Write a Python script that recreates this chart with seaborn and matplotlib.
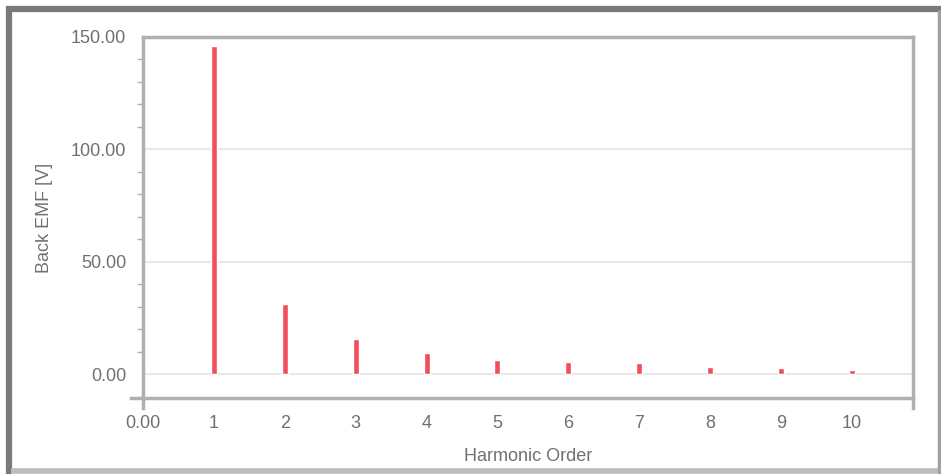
import matplotlib
matplotlib.use("Agg")
import matplotlib.pyplot as plt
import seaborn as sns
from matplotlib.ticker import MultipleLocator, FuncFormatter
from matplotlib.lines import Line2D

# Harmonic spectrum of back EMF
orders = [1, 2, 3, 4, 5, 6, 7, 8, 9, 10]
emf = [146.0, 31.0, 15.5, 9.5, 6.5, 5.2, 5.0, 3.2, 2.5, 2.0]
x_ticks = [0, 1, 2, 3, 4, 5, 6, 7, 8, 9, 10]
x_labels = ['0.00', '1', '2', '3', '4', '5', '6', '7', '8', '9', '10']

sns.set_style('white')
plt.rcParams['font.family'] = ['Liberation Sans', 'DejaVu Sans']

fig = plt.figure(figsize=(9.41, 4.74), dpi=100)
ax = fig.add_axes([0.152, 0.160, 0.818, 0.762])

sns.barplot(x=orders, y=emf, native_scale=True, width=0.085,
            color='#f24e5a', saturation=1, ax=ax)

ax.set_xlim(0, 10.86)
ax.set_ylim(-10.7, 150)
ax.set_xticks(x_ticks)
ax.set_xticklabels(x_labels)
ax.yaxis.set_major_locator(MultipleLocator(50))
ax.yaxis.set_minor_locator(MultipleLocator(10))
ax.yaxis.set_major_formatter(FuncFormatter(lambda v, p: f'{v:.2f}'))
ax.grid(axis='y', which='major', color='#e8e8e8', linewidth=1.5)
ax.set_axisbelow(True)

ax.tick_params(axis='both', which='major', direction='out', length=7, width=1.2,
               color='#a8a8a8', labelcolor='#707070', labelsize=13, pad=5)
ax.tick_params(axis='y', which='minor', direction='out', length=4, width=1,
               color='#b0b0b0', left=True)
ax.tick_params(axis='x', which='major', length=0, pad=12)

for side in ['left', 'right', 'top', 'bottom']:
    ax.spines[side].set_color('#b0b0b0')
    ax.spines[side].set_linewidth(2.5)
ax.spines['left'].set_bounds(-15, 150)
ax.spines['right'].set_bounds(-15, 150)
ax.spines['bottom'].set_bounds(-0.17, 10.86)

ax.set_xlabel('Harmonic Order', color='#707070', fontsize=13, labelpad=12)
ax.set_ylabel('Back EMF [V]', color='#707070', fontsize=13, labelpad=13)

# sunken outer frame
tf = fig.transFigure
frame = dict(transform=tf, solid_capstyle='butt')
fig.add_artist(Line2D([0.006, 1.0], [0.982, 0.982], color='#7a7a7a', lw=4.5, **frame))
fig.add_artist(Line2D([0.0097, 0.0097], [0.0, 0.987], color='#7a7a7a', lw=4.5, **frame))
fig.add_artist(Line2D([0.012, 1.0], [0.007, 0.007], color='#bdbdbd', lw=4, **frame))
fig.add_artist(Line2D([0.998, 0.998], [0.0, 0.978], color='#a0a0a0', lw=2.5, **frame))

fig.savefig('out.png', dpi=100)
